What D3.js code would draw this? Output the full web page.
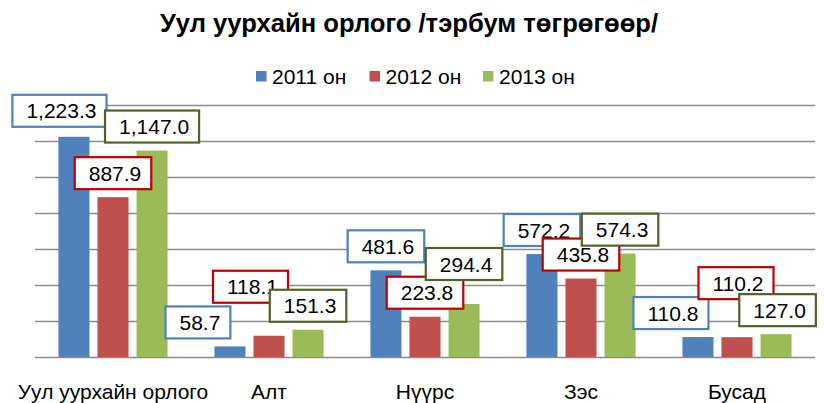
<!DOCTYPE html>
<html>
<head>
<meta charset="utf-8">
<script src="https://cdn.jsdelivr.net/npm/d3@7"></script>
<style>
  html, body { margin: 0; padding: 0; background: #fff; }
  svg { display: block; font-family: "Liberation Sans", Arial, sans-serif; }
</style>
</head>
<body>
<svg id="chart" width="824" height="403"></svg>
<script>
// ---- data ----
const categories = ["Уул уурхайн орлого", "Алт", "Нүүрс", "Зэс", "Бусад"];
const seriesNames = ["2011 он", "2012 он", "2013 он"];
const values2011 = [1223.3, 58.7, 481.6, 572.2, 110.8];
const values2012 = [887.9, 118.1, 223.8, 435.8, 110.2];
const values2013 = [1147.0, 151.3, 294.4, 574.3, 127.0];
const labels2011 = ["1,223.3", "58.7", "481.6", "572.2", "110.8"];
const labels2012 = ["887.9", "118.1", "223.8", "435.8", "110.2"];
const labels2013 = ["1,147.0", "151.3", "294.4", "574.3", "127.0"];
const yTicks = [0, 200, 400, 600, 800, 1000, 1200, 1400];
const title = "Уул уурхайн орлого /тэрбум төгрөгөөр/";

// ---- styles ----
const barColors = ["#4F81BD", "#C0504D", "#9BBB59"];
const boxColors = ["#4F81BD", "#C00000", "#4F6228"];
// manual label nudges (px) relative to default placement, [series][category]
const nudges = [
  [[-14.5, -2], [-32, 0], [0, 0], [0, 0], [-27, 0]],
  [[0, 0], [-18.5, -25], [0, 0], [0, 0], [-1, -30]],
  [[0, 0], [0, 0], [0, -16], [0, 0], [1.5, 0]]
];

const allValues = [values2011, values2012, values2013];
const allLabels = [labels2011, labels2012, labels2013];

const svg = d3.select("#chart");
const font = "\"Liberation Sans\", Arial, sans-serif";

const plot = { left: 35, right: 815, top: 105, bottom: 357 };

const x0 = d3.scaleBand().domain(categories).range([plot.left, plot.right]).padding(0);
const x1 = d3.scaleBand().domain(seriesNames).range([0, x0.bandwidth()])
  .paddingInner(0.205).paddingOuter(0.6);
const y = d3.scaleLinear().domain([0, 1400]).range([plot.bottom, plot.top]);

// title
svg.append("text")
  .attr("x", 409).attr("y", 32)
  .attr("text-anchor", "middle")
  .attr("font-weight", "bold")
  .attr("font-size", 25.6)
  .attr("fill", "#000")
  .text(title);

// legend
const legend = svg.append("g");
const legStep = 113.5, legStart = 256;
seriesNames.forEach((s, i) => {
  const g = legend.append("g").attr("transform", `translate(${legStart + i * legStep},0)`);
  g.append("rect").attr("x", 0).attr("y", 71).attr("width", 10.5).attr("height", 10.5)
    .attr("fill", barColors[i]);
  g.append("text").attr("x", 16).attr("y", 84).attr("font-size", 21).attr("fill", "#000").text(s);
});

// gridlines
svg.append("g").selectAll("line").data(yTicks).join("line")
  .attr("x1", plot.left).attr("x2", plot.right)
  .attr("y1", d => Math.round(y(d)) + 0.5).attr("y2", d => Math.round(y(d)) + 0.5)
  .attr("stroke", "#8C8C8C").attr("stroke-width", 1.3);

// bars
const barsG = svg.append("g");
seriesNames.forEach((s, si) => {
  barsG.selectAll(null).data(categories).join("rect")
    .attr("x", c => x0(c) + x1(s))
    .attr("width", x1.bandwidth())
    .attr("y", (c, ci) => y(allValues[si][ci]))
    .attr("height", (c, ci) => y(0) - y(allValues[si][ci]))
    .attr("fill", barColors[si]);
});

// x axis category labels
const xAxis = d3.axisBottom(x0).tickSize(0).tickPadding(0);
const ax = svg.append("g").attr("transform", `translate(0,${plot.bottom})`).call(xAxis);
ax.select(".domain").remove();
ax.selectAll("text")
  .attr("y", 42).attr("dy", 0)
  .attr("font-size", 21).attr("font-family", font).attr("fill", "#000");

// data labels
const labG = svg.append("g");
seriesNames.forEach((s, si) => {
  categories.forEach((c, ci) => {
    const cx = x0(c) + x1(s) + x1.bandwidth() / 2 + nudges[si][ci][0];
    const cy = y(allValues[si][ci]) - 24 + nudges[si][ci][1];
    const g = labG.append("g").attr("transform", `translate(${cx},${cy})`);
    const rect = g.append("rect");
    const t = g.append("text")
      .attr("x", 2).attr("y", 7.5)
      .attr("text-anchor", "middle")
      .attr("font-size", 21).attr("fill", "#000")
      .text(allLabels[si][ci]);
    const w = t.node().getComputedTextLength() + 24;
    const h = 32;
    rect.attr("x", -w / 2).attr("y", -h / 2).attr("width", w).attr("height", h)
      .attr("fill", "#fff").attr("stroke", boxColors[si]).attr("stroke-width", 2.2);
  });
});
</script>
</body>
</html>
